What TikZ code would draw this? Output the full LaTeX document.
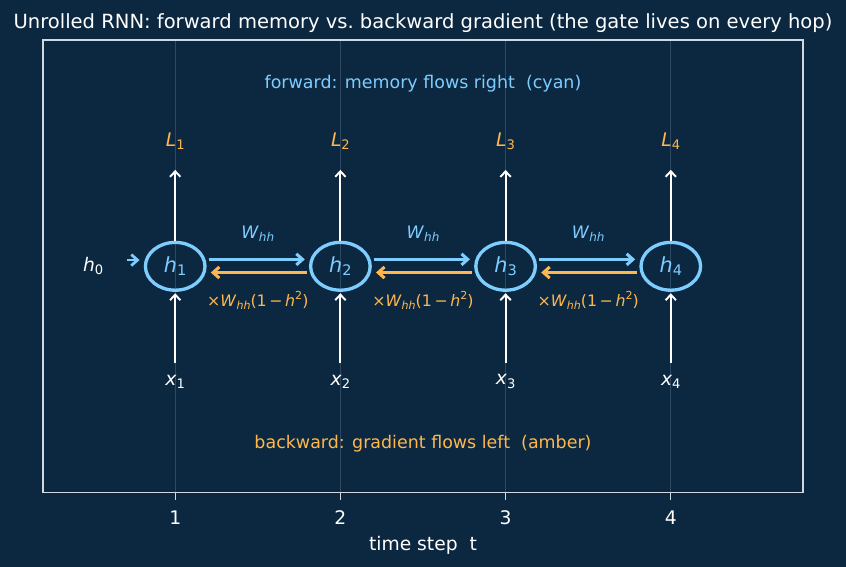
\documentclass[tikz,border=0pt]{standalone}
\usepackage{fontspec}
\setmainfont{DejaVu Sans}
\usepackage{tikz}
\usetikzlibrary{arrows.meta,positioning,shapes.geometric,calc}
\definecolor{navybg}{RGB}{12,40,64}
\definecolor{framegray}{RGB}{208,216,224}
\definecolor{gridline}{RGB}{44,72,98}
\definecolor{memcyan}{RGB}{126,205,255}
\definecolor{gradamber}{RGB}{255,183,77}

\makeatletter
\newcommand{\smallset}{\fontsize{\strip@pt\dimexpr0.7\dimexpr\f@size pt\relax\relax}{1}\selectfont}
\makeatother
\newcommand{\sbs}[1]{\raisebox{-0.3ex}{\smallset #1}}
\newcommand{\sps}[1]{\raisebox{0.8ex}{\smallset #1}}
\newcommand{\hvar}[1]{\textit{h}\sbs{#1}}
\newcommand{\whh}{\textit{W}\sbs{\textit{hh}}}

\begin{document}
\begin{tikzpicture}[x=4.191cm, y=2.609cm,
    every node/.style={font=\fontsize{12.6}{15}\selectfont, text=white},
    state/.style={ellipse, draw=memcyan, line width=2.4pt, minimum width=43pt,
      minimum height=34.5pt, inner sep=0pt, text=memcyan, font=\fontsize{15}{17}\selectfont},
    fwd/.style={-{Straight Barb[length=4.5pt,width=8pt]}, memcyan, line width=2.2pt},
    bwd/.style={-{Straight Barb[length=4.5pt,width=8pt]}, gradamber, line width=2.2pt},
    io/.style={-{Straight Barb[length=4pt,width=7.5pt]}, white, line width=1.4pt}]
  % background and axes
  \fill[navybg] (-0.0606,-2.9205) rectangle (5.0606,2.5895);
  \useasboundingbox (-0.0606,-2.9205) rectangle (5.0606,2.5895);
  \foreach \t in {1,...,4} {
    \draw[gridline, line width=0.6pt] (\t,-2.2) -- (\t,2.2);
    \draw[framegray, line width=1pt] (\t,-2.2) -- (\t,-2.27);
    \node at (\t,-2.444) {\fontsize{13.5}{16}\selectfont\t};
  }
  \draw[framegray, line width=1.1pt] (0.2,-2.2) rectangle (4.8,2.2);
  \node at (2.5,2.366) {\fontsize{14.1}{17}\selectfont Unrolled RNN: forward memory vs.\ backward gradient (the gate lives on every hop)};
  \node at (2.5,-2.717) {\fontsize{13.5}{16}\selectfont time step\ \ t};

  % captions
  \node[text=memcyan] at (2.5,1.78) {forward: memory flows right\ \ (cyan)};
  \node[text=gradamber] at (2.5,-1.72) {backward: gradient flows left\ \ (amber)};

  % states, losses, inputs
  \foreach \t in {1,...,4} {
    \node[state] (h\t) at (\t,0) {\hvar{\t}};
    \node[text=gradamber, inner sep=0pt, font=\fontsize{13.5}{16}\selectfont] (L\t) at (\t,1.217) {\textit{L}\sbs{\t}};
    \node[inner sep=0pt, font=\fontsize{13.5}{16}\selectfont] (x\t) at (\t,-1.12) {\textit{x}\sbs{\t}};
    \draw[io, shorten >=14.5pt] (h\t.north) -- (L\t);
    \draw[io, shorten <=8pt, shorten >=1pt] (x\t) -- (h\t.south);
  }

  \node[font=\fontsize{13.5}{16}\selectfont] (h0) at (0.503,0) {\hvar{0}};
  \draw[fwd, line width=2pt, shorten <=14pt, shorten >=3pt] ([yshift=4.5pt]h0.east) -- ([yshift=4.5pt]h1.west);

  % recurrent hops
  \foreach \t/\n in {1/2,2/3,3/4} {
    \draw[fwd, shorten <=1.5pt, shorten >=3pt] ([yshift=5pt]h\t.east) -- ([yshift=5pt]h\n.west);
    \draw[bwd, shorten <=1.5pt, shorten >=3pt] ([yshift=-4.5pt]h\n.west) -- ([yshift=-4.5pt]h\t.east);
    \node[text=memcyan, font=\fontsize{12.4}{14}\selectfont] (w\t) at (\t+0.5,0.32) {\whh};
    \node[text=gradamber, font=\fontsize{11.4}{13}\selectfont] (g\t) at (\t+0.5,-0.33) {×\whh(1\,−\,\textit{h}\sps{2})};
  }
\end{tikzpicture}
\end{document}
